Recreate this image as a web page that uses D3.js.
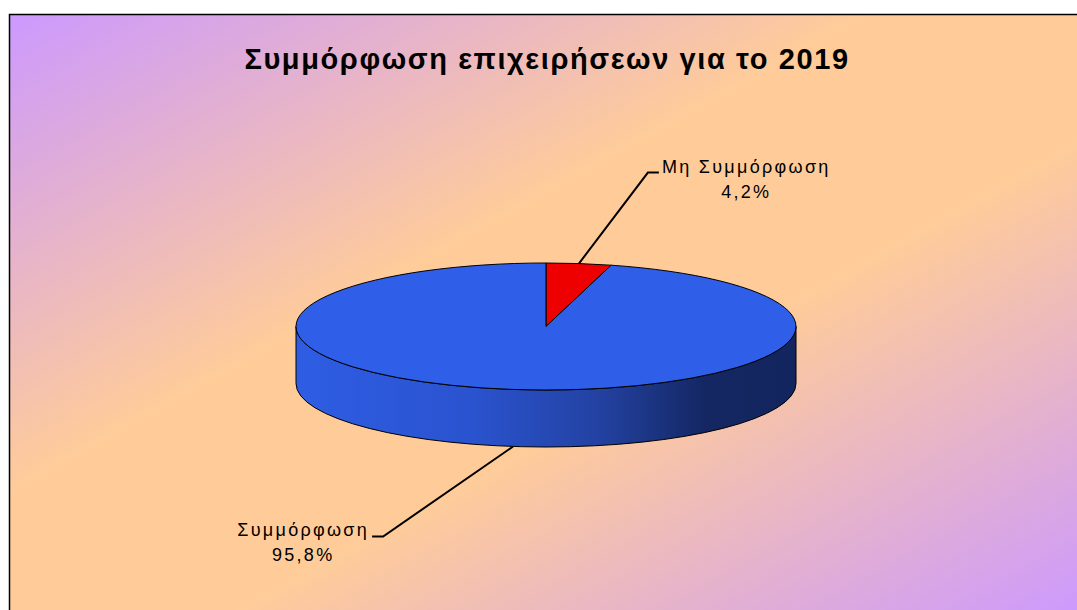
<!DOCTYPE html>
<html>
<head>
<meta charset="utf-8">
<script src="https://cdn.jsdelivr.net/npm/d3@7"></script>
<style>
  html, body { margin: 0; padding: 0; background: #fff; }
  svg { display: block; }
</style>
</head>
<body>
<svg id="svg"></svg>
<script>
// data
const title = "Συμμόρφωση επιχειρήσεων για το 2019";
const categories = ["Μη Συμμόρφωση", "Συμμόρφωση"];
const values = [4.2, 95.8];
const colors = ["#ee0000", "#2f5ee9"];

const W = 1077, H = 610;
// pie geometry
const cx = 546, cy = 326.5, rx = 250, ry = 63.5, depth = 57;
// label elbow offsets from slice edge point
const labelOffsets = [[69, -91], [-130, 90]];

document.addEventListener("DOMContentLoaded", function () {
    const svg = d3.select("#svg").attr("width", W).attr("height", H);
    const defs = svg.append("defs");

    const bg = defs.append("linearGradient").attr("id", "bg")
        .attr("x1", 0).attr("y1", 0).attr("x2", 1).attr("y2", 1);
    bg.append("stop").attr("offset", 0).attr("stop-color", "#cc99ff");
    bg.append("stop").attr("offset", 0.4).attr("stop-color", "#ffcc99");
    bg.append("stop").attr("offset", 0.6).attr("stop-color", "#ffcc99");
    bg.append("stop").attr("offset", 1).attr("stop-color", "#cc99ff");

    const side = defs.append("linearGradient").attr("id", "side")
        .attr("gradientUnits", "userSpaceOnUse")
        .attr("x1", cx - rx).attr("y1", 0).attr("x2", cx + rx).attr("y2", 0);
    side.append("stop").attr("offset", 0).attr("stop-color", "#2e5de4");
    side.append("stop").attr("offset", 0.35).attr("stop-color", "#2a53cf");
    side.append("stop").attr("offset", 0.6).attr("stop-color", "#2342a3");
    side.append("stop").attr("offset", 0.82).attr("stop-color", "#142763");
    side.append("stop").attr("offset", 1).attr("stop-color", "#13255e");

    svg.append("rect")
        .attr("x", 9.5).attr("y", 14.5)
        .attr("width", 1076).attr("height", 600)
        .attr("fill", "url(#bg)")
        .attr("stroke", "#000")
        .attr("stroke-width", 1.5);

    svg.append("text")
        .attr("x", 547).attr("y", 69)
        .attr("text-anchor", "middle")
        .attr("font-family", "Liberation Sans, Arial, sans-serif")
        .attr("font-weight", "bold")
        .attr("font-size", 29)
        .attr("letter-spacing", 1.6)
        .attr("fill", "#000")
        .text(title);

    const pie = d3.pie().sort(null).startAngle(0).endAngle(2 * Math.PI);
    const arcs = pie(values);

    function pt(a, z) {
        return [cx + rx * Math.sin(a), cy - ry * Math.cos(a) + (z || 0)];
    }

    // sides (front half only: angles pi/2 .. 3pi/2)
    const g = svg.append("g");
    arcs.forEach(function (d, i) {
        const s = Math.max(d.startAngle, Math.PI / 2);
        const e = Math.min(d.endAngle, 3 * Math.PI / 2);
        if (e <= s) return;
        const p0 = pt(s), p1 = pt(e), q1 = pt(e, depth), q0 = pt(s, depth);
        const dStr = `M${p0}A${rx},${ry} 0 0 1 ${p1}L${q1}A${rx},${ry} 0 0 0 ${q0}Z`;
        g.append("path")
            .attr("d", dStr)
            .attr("fill", i === 1 ? "url(#side)" : d3.color(colors[i]).darker(1))
            .attr("stroke", "#000")
            .attr("stroke-width", 1)
            .attr("stroke-linejoin", "round");
    });

    // top faces
    arcs.forEach(function (d, i) {
        const p0 = pt(d.startAngle), p1 = pt(d.endAngle);
        const large = d.endAngle - d.startAngle > Math.PI ? 1 : 0;
        const dStr = `M${cx},${cy}L${p0}A${rx},${ry} 0 ${large} 1 ${p1}Z`;
        g.append("path")
            .attr("d", dStr)
            .attr("fill", colors[i])
            .attr("stroke", "#000")
            .attr("stroke-width", 1)
            .attr("stroke-linejoin", "round");
    });

    // labels
    const total = d3.sum(values);
    const fmt = d3.formatLocale({ decimal: ",", thousands: ".", grouping: [3], currency: ["", "€"] }).format(".1f");
    const line = d3.line();
    arcs.forEach(function (d, i) {
        const mid = (d.startAngle + d.endAngle) / 2;
        const front = mid > Math.PI / 2 && mid < 3 * Math.PI / 2;
        const start = pt(mid, front ? depth : 0);
        const elbow = [start[0] + labelOffsets[i][0], start[1] + labelOffsets[i][1]];
        const right = labelOffsets[i][0] > 0;
        const end = [elbow[0] + (right ? 11 : -11), elbow[1]];
        svg.append("path")
            .attr("d", line([start, elbow, end]))
            .attr("fill", "none")
            .attr("stroke", "#000")
            .attr("stroke-width", 2);

        const t = svg.append("text")
            .attr("font-family", "Liberation Sans, Arial, sans-serif")
            .attr("font-size", 18)
            .attr("letter-spacing", 2.3)
            .attr("fill", "#000");
        const name = t.append("tspan")
            .attr("x", right ? end[0] + 3 : end[0] - 3)
            .attr("y", end[1])
            .attr("text-anchor", right ? "start" : "end")
            .text(categories[i]);
        const w = name.node().getComputedTextLength();
        const centerX = right ? end[0] + 3 + w / 2 : end[0] - 3 - w / 2;
        t.append("tspan")
            .attr("x", centerX)
            .attr("y", end[1] + 25)
            .attr("text-anchor", "middle")
            .text(fmt(d.data / total * 100) + "%");
    });
});
</script>
</body>
</html>
